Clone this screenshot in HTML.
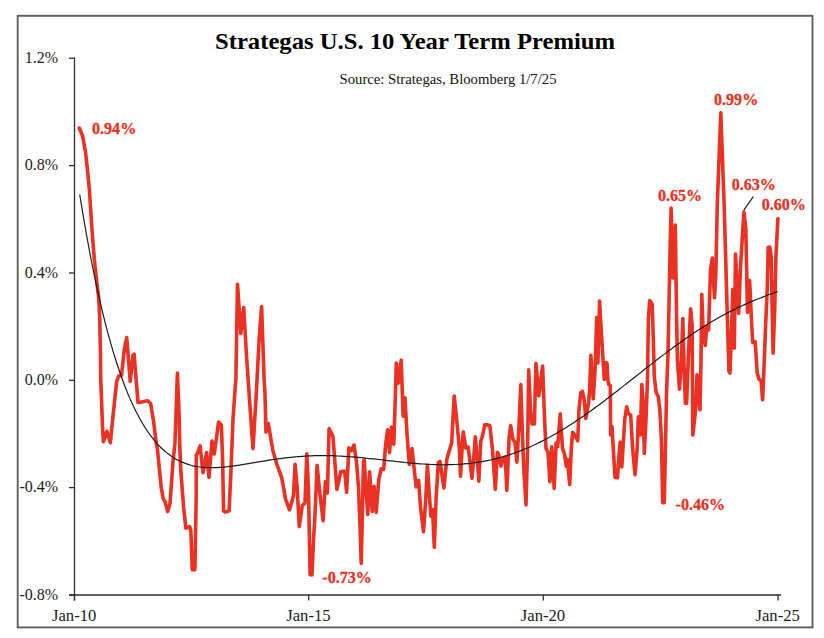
<!DOCTYPE html>
<html><head><meta charset="utf-8"><title>Strategas U.S. 10 Year Term Premium</title>
<style>
html,body{margin:0;padding:0;background:#fff;}
body{width:824px;height:638px;overflow:hidden;font-family:"Liberation Serif",serif;}
svg{display:block;}
svg text{font-family:"Liberation Serif",serif;}
.ax text{font-size:16px;fill:#1a1a1a;}
.rl{font-size:17.5px;font-weight:bold;fill:#e93223;stroke:#e93223;stroke-width:0.3px;}
</style></head><body>
<svg width="824" height="638" viewBox="0 0 824 638">
<rect x="0" y="0" width="824" height="638" fill="#fff"/>
<rect x="17.7" y="15.8" width="794.8" height="611.6" fill="none" stroke="#5f5f5f" stroke-width="1.9"/>
<text x="415" y="48.7" text-anchor="middle" font-size="24px" font-weight="bold" fill="#000" textLength="400" lengthAdjust="spacingAndGlyphs">Strategas U.S. 10 Year Term Premium</text>
<text x="448" y="84.1" text-anchor="middle" font-size="14px" fill="#111" textLength="217" lengthAdjust="spacingAndGlyphs">Source: Strategas, Bloomberg 1/7/25</text>
<g stroke="#2e2e2e" stroke-width="1.3" fill="none">
<line x1="74.5" y1="57.6" x2="74.5" y2="600.5"/>
<line x1="69" y1="595" x2="781" y2="595"/>
<line x1="69" y1="58.2" x2="74.5" y2="58.2"/><line x1="69" y1="165.6" x2="74.5" y2="165.6"/><line x1="69" y1="273" x2="74.5" y2="273"/><line x1="69" y1="380.3" x2="74.5" y2="380.3"/><line x1="69" y1="487.6" x2="74.5" y2="487.6"/><line x1="69" y1="595" x2="74.5" y2="595"/><line x1="74.5" y1="595" x2="74.5" y2="600.5"/><line x1="308.7" y1="595" x2="308.7" y2="600.5"/><line x1="543.3" y1="595" x2="543.3" y2="600.5"/><line x1="778" y1="595" x2="778" y2="600.5"/>
</g>
<g class="ax"><text x="58.2" y="62.8" text-anchor="end">1.2%</text><text x="58.2" y="170.2" text-anchor="end">0.8%</text><text x="58.2" y="277.6" text-anchor="end">0.4%</text><text x="58.2" y="384.9" text-anchor="end">0.0%</text><text x="58.2" y="492.2" text-anchor="end">-0.4%</text><text x="58.2" y="599.6" text-anchor="end">-0.8%</text><text x="74.2" y="621.3" text-anchor="middle" textLength="44.4" lengthAdjust="spacingAndGlyphs">Jan-10</text><text x="308.4" y="621.3" text-anchor="middle" textLength="44.4" lengthAdjust="spacingAndGlyphs">Jan-15</text><text x="543.0" y="621.3" text-anchor="middle" textLength="44.4" lengthAdjust="spacingAndGlyphs">Jan-20</text><text x="777.7" y="621.3" text-anchor="middle" textLength="44.4" lengthAdjust="spacingAndGlyphs">Jan-25</text></g>
<path d="M79.3,128.0 L82.6,136.0 L85.5,152.0 L87.5,170.0 L89.4,190.0 L91.0,215.0 L92.3,234.0 L94.3,259.0 L96.8,282.4 L98.7,298.0 L99.7,317.4 L100.5,354.0 L100.7,378.3 L102.6,428.7 L103.4,441.7 L106.9,431.3 L110.4,442.7 L111.7,428.7 L116.6,382.0 L118.5,376.3 L121.5,375.3 L124.4,349.0 L126.7,337.5 L129.2,368.5 L130.2,381.4 L133.1,355.0 L134.1,354.2 L136.0,378.0 L138.0,402.5 L139.0,402.4 L147.7,400.8 L150.6,403.5 L153.5,421.0 L156.4,443.9 L157.4,449.0 L161.3,488.0 L163.2,498.6 L165.1,501.6 L167.7,511.6 L170.0,503.5 L172.9,462.7 L174.9,443.9 L175.8,420.0 L177.4,373.1 L179.3,420.0 L179.7,443.9 L180.7,468.5 L183.6,507.4 L185.9,528.2 L189.7,526.6 L190.9,531.0 L192.2,569.6 L194.9,569.6 L195.6,530.0 L196.2,497.7 L196.3,455.0 L197.2,454.0 L200.1,445.9 L203.0,472.8 L206.6,452.6 L209.0,477.4 L212.0,441.0 L214.3,453.9 L218.6,422.1 L221.4,425.0 L222.6,460.0 L223.6,511.0 L225.5,512.1 L229.1,510.8 L231.1,467.7 L233.0,419.0 L235.0,390.0 L235.9,378.7 L237.5,284.2 L240.8,333.4 L243.7,307.5 L246.6,357.4 L249.1,393.9 L253.0,448.6 L256.3,393.9 L259.2,338.0 L261.6,306.6 L264.1,378.7 L265.0,393.9 L266.0,432.1 L268.3,423.6 L272.8,450.2 L276.7,463.8 L281.6,477.4 L283.9,489.4 L285.4,498.7 L289.5,509.9 L293.4,496.0 L295.1,464.4 L297.1,487.1 L299.3,526.6 L302.3,505.6 L305.0,502.9 L306.8,453.7 L308.5,490.0 L310.1,574.8 L312.0,574.9 L313.5,540.0 L315.0,514.7 L317.1,465.4 L319.6,491.0 L323.1,520.8 L325.4,481.6 L327.4,492.9 L329.1,428.5 L333.0,436.6 L336.9,489.4 L340.8,471.6 L344.7,471.2 L346.6,492.3 L348.9,447.9 L351.5,450.5 L354.0,445.0 L356.5,462.0 L358.5,487.0 L360.4,537.0 L361.2,563.5 L362.3,517.7 L363.5,461.0 L364.3,460.1 L366.0,490.0 L367.8,514.4 L369.6,471.7 L372.2,511.4 L374.0,486.3 L376.2,512.4 L378.8,479.5 L381.2,468.8 L383.7,469.4 L385.6,444.9 L387.6,429.9 L389.5,452.7 L391.5,427.0 L393.8,444.2 L395.3,398.3 L396.3,363.0 L398.3,383.1 L401.2,360.0 L403.1,416.1 L405.0,397.9 L407.0,434.0 L409.3,464.4 L412.0,448.6 L413.8,465.2 L416.1,486.9 L418.6,480.4 L420.6,508.0 L423.5,531.6 L425.8,498.3 L427.4,465.4 L429.3,494.4 L430.9,516.1 L432.6,509.6 L434.3,547.4 L436.1,498.3 L438.3,462.6 L440.0,461.4 L443.9,487.9 L446.8,459.4 L448.7,452.6 L451.7,442.9 L453.0,417.7 L454.2,396.0 L456.5,417.7 L459.4,448.7 L460.5,476.3 L462.3,445.0 L463.3,431.9 L465.8,448.1 L468.2,447.1 L470.0,462.0 L472.0,478.2 L474.0,455.0 L475.3,436.7 L477.5,462.0 L478.8,481.1 L480.8,441.0 L482.7,435.1 L484.8,424.7 L487.6,424.9 L489.8,425.5 L492.4,448.7 L493.8,467.7 L495.3,489.4 L497.4,452.4 L498.4,453.6 L501.0,466.1 L503.3,457.6 L505.2,457.0 L506.8,490.4 L509.1,438.5 L510.7,425.6 L513.0,439.5 L515.0,442.4 L516.9,462.2 L518.8,428.8 L520.8,384.5 L522.3,430.0 L523.7,467.7 L526.0,504.9 L527.6,448.3 L528.7,369.9 L530.5,410.0 L532.0,424.0 L534.4,424.0 L535.9,363.2 L538.8,395.9 L542.6,366.1 L544.6,420.0 L546.0,448.3 L548.0,452.1 L549.9,481.6 L551.8,446.9 L554.2,488.4 L556.1,443.1 L557.7,446.7 L560.2,413.9 L562.5,448.3 L564.5,454.0 L566.2,466.1 L567.4,459.6 L569.7,484.5 L571.3,448.3 L572.6,432.4 L575.1,435.6 L577.7,440.8 L579.0,409.4 L580.8,392.6 L582.5,391.3 L584.2,400.0 L585.8,418.5 L588.7,402.0 L589.6,390.0 L590.9,355.4 L593.2,398.8 L595.1,369.3 L596.7,317.5 L597.9,362.9 L599.6,301.0 L601.0,326.6 L602.9,357.7 L604.3,379.4 L606.0,362.5 L607.0,363.2 L608.0,381.0 L608.8,384.5 L610.3,385.5 L610.6,435.0 L612.0,426.6 L615.0,477.4 L617.5,477.7 L618.8,458.0 L620.2,442.1 L621.8,467.0 L624.8,419.1 L626.7,406.8 L628.2,413.3 L630.7,415.2 L632.6,448.3 L635.0,474.8 L637.2,448.3 L638.4,416.8 L640.4,435.0 L641.8,384.5 L643.0,400.0 L644.3,453.4 L646.0,419.0 L647.5,380.0 L648.4,318.8 L649.7,300.6 L652.2,304.0 L653.3,338.3 L654.3,377.1 L656.2,392.6 L658.2,396.5 L659.8,409.4 L661.4,438.5 L662.7,502.6 L664.3,502.6 L665.6,438.5 L666.6,390.0 L667.9,357.7 L669.5,280.0 L670.1,247.7 L671.1,208.1 L673.0,277.9 L675.3,225.0 L676.6,318.8 L677.4,360.0 L679.5,389.1 L681.5,357.7 L682.8,318.5 L684.4,377.1 L685.4,403.4 L686.6,403.4 L688.3,357.7 L690.6,308.8 L692.1,325.0 L692.8,435.0 L695.7,409.4 L697.0,374.8 L698.5,395.0 L700.0,409.8 L701.0,360.0 L701.8,294.2 L703.4,338.3 L705.3,345.4 L706.7,326.3 L708.6,329.9 L709.6,299.4 L710.5,270.0 L712.3,258.0 L714.5,297.8 L715.8,275.0 L717.3,204.0 L720.8,112.7 L724.1,204.0 L725.4,247.7 L727.1,309.1 L729.0,371.6 L730.0,373.0 L731.9,318.8 L732.9,289.4 L734.3,348.3 L735.5,254.1 L737.3,288.0 L738.7,313.4 L740.5,267.1 L742.9,228.3 L743.9,212.0 L745.8,228.3 L747.5,312.4 L749.6,280.6 L751.9,328.5 L752.7,342.4 L755.2,341.8 L757.2,373.2 L759.1,379.4 L761.1,380.6 L762.6,399.8 L764.0,367.4 L765.9,318.8 L767.2,290.0 L768.2,247.3 L769.8,247.0 L771.2,257.0 L772.0,300.0 L773.1,353.2 L774.7,309.1 L775.9,257.4 L777.9,218.5" fill="none" stroke="#e93223" stroke-width="3.6" stroke-linejoin="round" stroke-linecap="round"/>
<path d="M79.7,194.5 C80.7,200.3 83.6,218.4 85.6,229.5 C87.5,240.5 89.5,251.0 91.4,261.0 C93.4,271.0 95.3,280.4 97.3,289.3 C99.3,298.2 101.2,306.7 103.2,314.6 C105.1,322.6 107.1,330.1 109.0,337.2 C111.0,344.3 112.9,351.0 114.9,357.3 C116.9,363.6 118.8,369.5 120.8,375.0 C122.7,380.6 124.7,385.7 126.6,390.6 C128.6,395.5 130.5,400.0 132.5,404.2 C134.5,408.5 136.4,412.4 138.4,416.0 C140.3,419.7 142.3,423.1 144.2,426.2 C146.2,429.4 148.1,432.3 150.1,434.9 C152.1,437.6 154.0,440.1 156.0,442.3 C157.9,444.6 159.9,446.6 161.8,448.5 C163.8,450.3 165.7,452.0 167.7,453.6 C169.7,455.1 171.6,456.4 173.6,457.7 C175.5,458.9 177.5,460.0 179.4,460.9 C181.4,461.9 183.3,462.7 185.3,463.4 C187.3,464.1 189.2,464.7 191.2,465.3 C193.1,465.8 195.1,466.2 197.0,466.5 C199.0,466.9 200.9,467.1 202.9,467.3 C204.8,467.5 206.8,467.6 208.8,467.6 C210.7,467.7 212.7,467.7 214.6,467.6 C216.6,467.6 218.5,467.5 220.5,467.4 C222.4,467.2 224.4,467.0 226.4,466.8 C228.3,466.6 230.3,466.4 232.2,466.1 C234.2,465.9 236.1,465.6 238.1,465.3 C240.0,465.0 242.0,464.7 244.0,464.4 C245.9,464.1 247.9,463.7 249.8,463.4 C251.8,463.1 253.7,462.7 255.7,462.4 C257.6,462.1 259.6,461.7 261.6,461.4 C263.5,461.1 265.5,460.8 267.4,460.4 C269.4,460.1 271.3,459.8 273.3,459.5 C275.2,459.2 277.2,459.0 279.2,458.7 C281.1,458.4 283.1,458.2 285.0,457.9 C287.0,457.7 288.9,457.5 290.9,457.3 C292.8,457.1 294.8,456.9 296.8,456.7 C298.7,456.5 300.7,456.4 302.6,456.3 C304.6,456.1 306.5,456.0 308.5,455.9 C310.4,455.8 312.4,455.8 314.4,455.7 C316.3,455.7 318.3,455.6 320.2,455.6 C322.2,455.6 324.1,455.6 326.1,455.6 C328.0,455.6 330.0,455.7 332.0,455.7 C333.9,455.8 335.9,455.9 337.8,456.0 C339.8,456.0 341.7,456.2 343.7,456.3 C345.6,456.4 347.6,456.5 349.6,456.7 C351.5,456.8 353.5,457.0 355.4,457.1 C357.4,457.3 359.3,457.5 361.3,457.7 C363.2,457.9 365.2,458.1 367.2,458.3 C369.1,458.5 371.1,458.7 373.0,458.9 C375.0,459.1 376.9,459.3 378.9,459.5 C380.8,459.8 382.8,460.0 384.8,460.2 C386.7,460.4 388.7,460.7 390.6,460.9 C392.6,461.1 394.5,461.3 396.5,461.6 C398.4,461.8 400.4,462.0 402.4,462.2 C404.3,462.4 406.3,462.6 408.2,462.8 C410.2,463.0 412.1,463.2 414.1,463.3 C416.0,463.5 418.0,463.7 420.0,463.8 C421.9,463.9 423.9,464.1 425.8,464.2 C427.8,464.3 429.7,464.4 431.7,464.5 C433.6,464.6 435.6,464.6 437.5,464.7 C439.5,464.7 441.5,464.8 443.4,464.8 C445.4,464.8 447.3,464.8 449.3,464.7 C451.2,464.7 453.2,464.6 455.1,464.5 C457.1,464.4 459.1,464.3 461.0,464.2 C463.0,464.0 464.9,463.9 466.9,463.7 C468.8,463.5 470.8,463.3 472.7,463.0 C474.7,462.8 476.7,462.5 478.6,462.2 C480.6,461.9 482.5,461.6 484.5,461.2 C486.4,460.8 488.4,460.4 490.3,460.0 C492.3,459.6 494.3,459.1 496.2,458.6 C498.2,458.1 500.1,457.6 502.1,457.0 C504.0,456.5 506.0,455.9 507.9,455.3 C509.9,454.6 511.9,454.0 513.8,453.3 C515.8,452.6 517.7,451.9 519.7,451.1 C521.6,450.4 523.6,449.6 525.5,448.8 C527.5,448.0 529.5,447.1 531.4,446.2 C533.4,445.4 535.3,444.4 537.3,443.5 C539.2,442.6 541.2,441.6 543.1,440.6 C545.1,439.6 547.1,438.5 549.0,437.5 C551.0,436.4 552.9,435.3 554.9,434.2 C556.8,433.1 558.8,431.9 560.7,430.8 C562.7,429.6 564.7,428.4 566.6,427.2 C568.6,425.9 570.5,424.7 572.5,423.4 C574.4,422.1 576.4,420.8 578.3,419.5 C580.3,418.2 582.3,416.8 584.2,415.5 C586.2,414.1 588.1,412.7 590.1,411.3 C592.0,409.9 594.0,408.5 595.9,407.1 C597.9,405.6 599.9,404.2 601.8,402.7 C603.8,401.3 605.7,399.8 607.7,398.3 C609.6,396.8 611.6,395.3 613.5,393.8 C615.5,392.3 617.5,390.8 619.4,389.2 C621.4,387.7 623.3,386.2 625.3,384.6 C627.2,383.1 629.2,381.6 631.1,380.0 C633.1,378.5 635.1,376.9 637.0,375.4 C639.0,373.9 640.9,372.3 642.9,370.8 C644.8,369.2 646.8,367.7 648.7,366.2 C650.7,364.7 652.7,363.1 654.6,361.6 C656.6,360.1 658.5,358.6 660.5,357.1 C662.4,355.6 664.4,354.1 666.3,352.6 C668.3,351.2 670.2,349.7 672.2,348.3 C674.2,346.8 676.1,345.4 678.1,344.0 C680.0,342.6 682.0,341.2 683.9,339.8 C685.9,338.4 687.8,337.1 689.8,335.7 C691.8,334.4 693.7,333.1 695.7,331.8 C697.6,330.5 699.6,329.2 701.5,328.0 C703.5,326.7 705.4,325.5 707.4,324.3 C709.4,323.1 711.3,321.9 713.3,320.8 C715.2,319.6 717.2,318.5 719.1,317.4 C721.1,316.3 723.0,315.2 725.0,314.2 C727.0,313.1 728.9,312.1 730.9,311.1 C732.8,310.1 734.8,309.1 736.7,308.2 C738.7,307.3 740.6,306.3 742.6,305.5 C744.6,304.6 746.5,303.7 748.5,302.8 C750.4,302.0 752.4,301.2 754.3,300.4 C756.3,299.6 758.2,298.8 760.2,298.0 C762.2,297.3 764.1,296.5 766.1,295.8 C768.0,295.0 770.0,294.3 771.9,293.6 C773.9,292.9 776.8,291.9 777.8,291.5" fill="none" stroke="#1c1c1c" stroke-width="1.2"/>
<line x1="753.4" y1="196.5" x2="743.7" y2="210.4" stroke="#222" stroke-width="1.3"/>
<g class="rl">
<text transform="translate(92,133.9) scale(0.92,1)">0.94%</text>
<text transform="translate(322.3,583) scale(0.92,1)">-0.73%</text>
<text transform="translate(675.6,509.8) scale(0.92,1)">-0.46%</text>
<text transform="translate(657.9,201.1) scale(0.92,1)">0.65%</text>
<text transform="translate(714,105.2) scale(0.92,1)">0.99%</text>
<text transform="translate(731.7,189.9) scale(0.92,1)">0.63%</text>
<text transform="translate(761.7,209.9) scale(0.92,1)">0.60%</text>
</g>
</svg>
</body></html>
